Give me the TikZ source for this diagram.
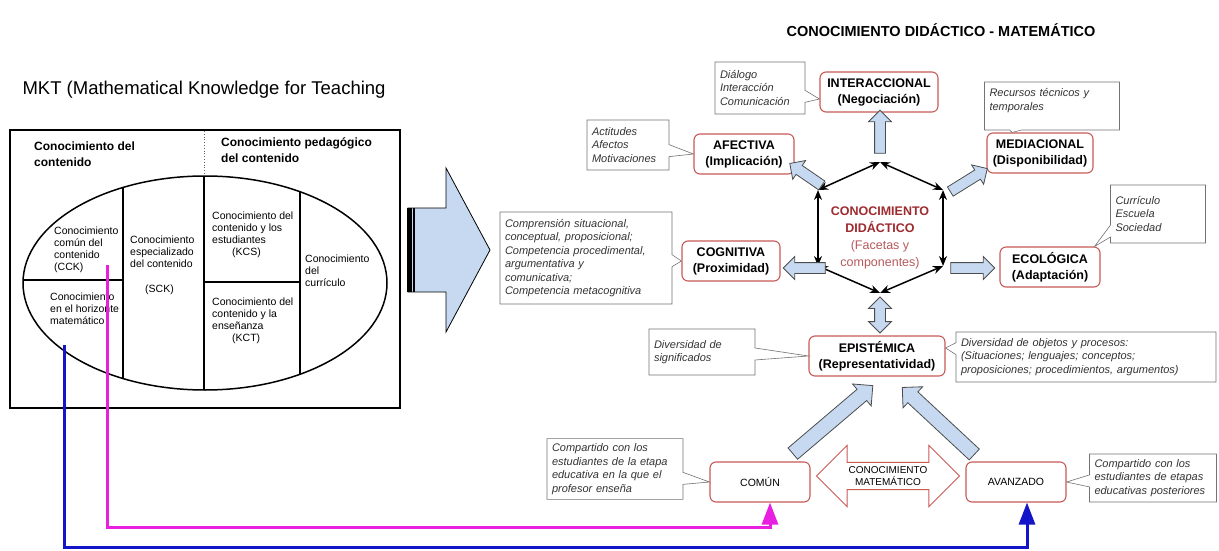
\documentclass[tikz,border=0pt]{standalone}
\usepackage{fontspec}
\setmainfont{Liberation Sans}
\usepackage{tikz}
\usetikzlibrary{arrows.meta,calc,positioning,shapes.arrows,shapes.callouts}
\definecolor{rojo}{HTML}{C85A57}
\definecolor{azulc}{HTML}{C6D9F1}
\definecolor{granate}{HTML}{9E2B2F}
\definecolor{rosa}{HTML}{B65A5C}
\definecolor{magen}{HTML}{E81EE0}
\definecolor{azulo}{HTML}{1414C8}
\tikzstyle{faceta}=[rectangle,rounded corners=6pt,draw=rojo,fill=white,line width=1.1pt,align=center,
  font=\bfseries\fontsize{12.5}{16}\selectfont,minimum width=100pt,minimum height=40pt,inner sep=2pt]
\tikzstyle{polo}=[faceta,font=\fontsize{10.5}{12}\selectfont]
\tikzstyle{nota}=[rectangle callout,draw=black!55,fill=white,line width=0.6pt,align=left,
  font=\itshape\fontsize{11}{13.5}\selectfont,text=black!80,callout pointer width=12pt,inner sep=5pt]
\tikzstyle{flecha}=[single arrow,draw=black!70,fill=azulc,line width=0.8pt,inner sep=5pt,
  single arrow head extend=6pt,single arrow tip angle=90]
\tikzstyle{cabecera}=[anchor=north west,align=left,font=\bfseries\fontsize{12}{16}\selectfont,inner sep=0pt]
\tikzstyle{celda}=[anchor=north west,align=left,font=\fontsize{10.5}{12}\selectfont,inner sep=0pt]
\tikzstyle{hexa}=[<->,>={Stealth[length=10pt,width=8pt]},line width=1.5pt]

% flecha azul de (#2) a (#3)
\newcommand{\flechaaz}[4][]{%
  \path let \p1=(#2), \p2=(#3), \n1={atan2(\y2-\y1,\x2-\x1)}, \n2={veclen(\x2-\x1,\y2-\y1)} in
    node[flecha,#1,minimum height=\n2,rotate=\n1] (#4) at ($(#2)!0.5!(#3)$) {};}

\begin{document}
\begin{tikzpicture}[x=1pt,y=-1pt]
\fill[white] (0,0) rectangle (1219,551);
\useasboundingbox (0,0) rectangle (1219,551);

% titulos
\node[font=\bfseries\fontsize{14.5}{17}\selectfont] (titulo) at (941,30) {CONOCIMIENTO DIDÁCTICO - MATEMÁTICO};
\node[anchor=west,font=\fontsize{18.5}{22}\selectfont] (mkt) at (19,90) {MKT (Mathematical Knowledge for Teaching};

% bloque MKT
\draw[line width=1.8pt] (10,130) rectangle (400,408);
\draw[dotted,black!60,line width=0.8pt] (204,131) -- (204,177);
\node[cabecera] (ccont) at (34,142) {Conocimiento del\\contenido};
\node[cabecera] (cpeda) at (221,137) {Conocimiento pedagógico\\del contenido};
\begin{scope}
  \clip (205,283) ellipse [x radius=182,y radius=107];
  \draw[line width=1.3pt] (123,150) -- (123,420) (204,150) -- (204,420) (300,150) -- (300,420)
        (0,280) -- (123,280) (204,282) -- (300,282);
\end{scope}
\draw[line width=1.5pt] (205,283) ellipse [x radius=182,y radius=107];
\node[celda] (cck) at (54,227) {Conocimiento\\común del\\contenido\\(CCK)};
\node[celda] (sck) at (130,236) {Conocimiento\\especializado\\del contenido};
\node[celda] (sckab) at (145,285) {(SCK)};
\node[celda] (kcs) at (212,212) {Conocimiento del\\contenido y los\\estudiantes\\\hspace*{20pt}(KCS)};
\node[celda] (curr) at (305,255) {Conocimiento\\del\\currículo};
\node[celda] (horiz) at (50,293) {Conocimiento\\en el horizonte\\matemático};
\node[celda] (kct) at (212,298) {Conocimiento del\\contenido y la\\enseñanza\\\hspace*{20pt}(KCT)};

% flecha grande
\draw[fill=azulc,line width=0.8pt] (408,208) -- (446,208) -- (446,168) -- (490,250) -- (446,332)
  -- (446,292) -- (408,292) -- cycle;
\fill[black] (407,208) rectangle (411.5,292);
\fill[black] (413,208) rectangle (415,292);

% facetas
\node[faceta,minimum width=118pt] (inter) at (879,92) {INTERACCIONAL\\(Negociación)};
\node[faceta] (afec) at (744,154) {AFECTIVA\\(Implicación)};
\node[faceta,minimum width=106pt] (medi) at (1040,153) {MEDIACIONAL\\(Disponibilidad)};
\node[faceta,minimum width=98pt] (cogn) at (731,261) {COGNITIVA\\(Proximidad)};
\node[faceta] (ecol) at (1050,267) {ECOLÓGICA\\(Adaptación)};
\node[faceta,minimum width=136pt] (epis) at (877,356) {EPISTÉMICA\\(Representatividad)};
\node[polo] (comun) at (760,482) {COMÚN};
\node[polo] (avanz) at (1016,482) {AVANZADO};

% hexagono
\coordinate (h1) at (880,162);
\coordinate (h2) at (818,190);
\coordinate (h3) at (818,266);
\coordinate (h4) at (880,293);
\coordinate (h5) at (943,266);
\coordinate (h6) at (943,190);
\foreach \a/\b in {h1/h2,h2/h3,h3/h4,h4/h5,h5/h6,h6/h1}
  \draw[hexa] (\a) -- (\b);
\node[align=center,font=\fontsize{12.5}{17}\selectfont] (cdm) at (880,238)
  {\textcolor{granate}{\textbf{CONOCIMIENTO}}\\\textcolor{granate}{\textbf{DIDÁCTICO}}\\
   \textcolor{rosa}{(Facetas y}\\\textcolor{rosa}{componentes)}};

% flechas azules
\coordinate (ar1a) at (880,156); \coordinate (ar1b) at (880,113);
\coordinate (ar2a) at (824,187); \coordinate (ar2b) at (792,165);
\coordinate (ar3a) at (948,193); \coordinate (ar3b) at (985,170);
\coordinate (ar4a) at (828,268); \coordinate (ar4b) at (786,268);
\coordinate (ar5a) at (948,268); \coordinate (ar5b) at (992,268);
\coordinate (ar7a) at (790,456); \coordinate (ar7b) at (870,388);
\coordinate (ar8a) at (977,457); \coordinate (ar8b) at (905,390);
\flechaaz{ar1a}{ar1b}{ar1}
\flechaaz{ar2a}{ar2b}{ar2}
\flechaaz{ar3a}{ar3b}{ar3}
\flechaaz{ar4a}{ar4b}{ar4}
\flechaaz{ar5a}{ar5b}{ar5}
\flechaaz[inner sep=7pt,single arrow head extend=7pt]{ar7a}{ar7b}{ar7}
\flechaaz[inner sep=7pt,single arrow head extend=7pt]{ar8a}{ar8b}{ar8}
\node[double arrow,draw=black!70,fill=azulc,line width=0.8pt,inner sep=5pt,
  double arrow head extend=6pt,double arrow tip angle=90,minimum height=36pt,rotate=90] (ar6) at (880,315) {};
\node[double arrow,draw=rojo,fill=white,line width=1pt,inner xsep=3pt,inner ysep=3.5pt,
  double arrow head extend=17pt,double arrow tip angle=90,minimum height=143pt,align=center,
  font=\fontsize{10}{12}\selectfont] (cmat) at (888,476) {CONOCIMIENTO\\MATEMÁTICO};

% notas
\node[nota,text width=80pt,minimum height=52pt,callout absolute pointer={([yshift=-7pt]inter.west)}] (ndial) at (760,88) {Diálogo\\Interacción\\Comunicación};
\node[nota,text width=72pt,minimum height=50pt,callout absolute pointer={(afec.west)}] (nafec) at (628,145) {Actitudes\\Afectos\\Motivaciones};
\node[nota,text width=125pt,minimum height=48pt,callout absolute pointer={([xshift=-28pt]medi.north)}] (nmedi) at (1052,106) {Recursos técnicos y\\temporales\\\mbox{}};
\node[nota,text width=162pt,minimum height=92pt,callout absolute pointer={(cogn.west)}] (ncogn) at (586,258) {Comprensión situacional,\\conceptual, proposicional;\\Competencia procedimental,\\argumentativa y\\comunicativa;\\Competencia metacognitiva};
\node[nota,text width=85pt,minimum height=58pt,callout absolute pointer={([xshift=-6pt]ecol.north east)}] (necol) at (1158,214) {Currículo\\Escuela\\Sociedad};
\node[nota,text width=96pt,minimum height=46pt,callout absolute pointer={(epis.west)}] (nsig) at (702,352) {Diversidad de\\significados};
\node[nota,text width=250pt,minimum height=50pt,callout absolute pointer={([yshift=8pt]epis.east)}] (nobj) at (1086,357) {Diversidad de objetos y procesos:\\(Situaciones; lenguajes; conceptos;\\proposiciones; procedimientos, argumentos)};
\node[nota,text width=126pt,minimum height=60pt,callout absolute pointer={(comun.west)}] (ncom) at (615,469) {Compartido con los\\estudiantes de la etapa\\educativa en la que el\\profesor enseña};
\node[nota,text width=117pt,minimum height=48pt,callout absolute pointer={(avanz.east)}] (navz) at (1153,478) {Compartido con los\\estudiantes de etapas\\educativas posteriores};

% conexiones MKT
\coordinate (pcck) at (107,265);
\coordinate (phor) at (64,345);
\coordinate (magend) at ([xshift=10pt]comun.south);
\coordinate (bluend) at ([xshift=11pt]avanz.south);
\draw[magen,line width=3pt,-{Triangle[width=16pt,length=22pt]}] (pcck) -- ++(0,262) -| (magend);
\draw[azulo,line width=3pt,-{Triangle[width=16pt,length=22pt]}] (phor) -- ++(0,202) -| (bluend);
\end{tikzpicture}
\end{document}
